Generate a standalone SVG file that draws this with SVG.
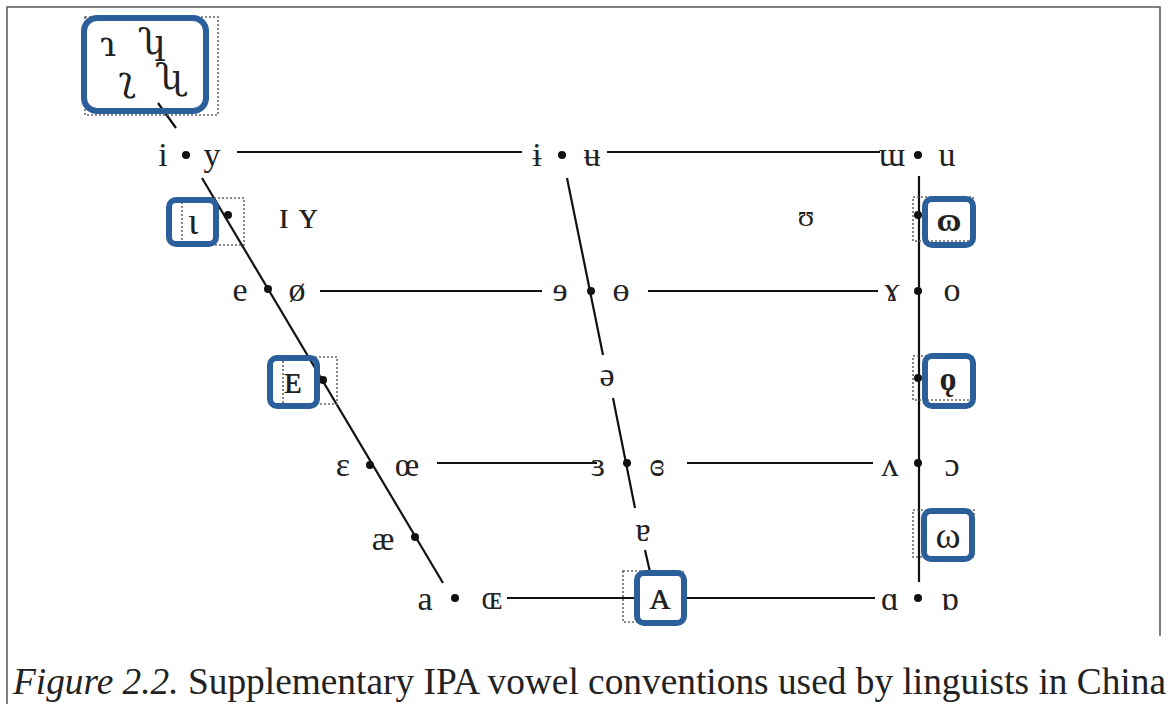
<svg xmlns="http://www.w3.org/2000/svg" width="1168" height="704" viewBox="0 0 1168 704">
<defs>
<style>
.t{font-family:"Liberation Serif","DejaVu Serif",serif;font-size:34px;fill:#222;text-anchor:middle}
.big{font-family:"DejaVu Serif",serif;font-size:36px}
.b{font-weight:bold}
.ln{stroke:#111;stroke-width:2.2;fill:none}
.dot{fill:#111}
.dt{fill:none;stroke:#666;stroke-width:1.6;stroke-dasharray:2 2}
.bx{fill:none;stroke:#2b5f9b;stroke-width:6}
.frame{stroke:#555;stroke-width:1.5;fill:none}
</style>
</defs>
<rect width="1168" height="704" fill="#fff"/>
<g id="frame">
<path class="frame" d="M7,704 V7 H1160 V636"/>
</g>
<g id="connectors">
<line class="ln" x1="158" y1="103" x2="176" y2="128"/>
<line class="ln" x1="202" y1="178" x2="443" y2="583"/>
<line class="ln" x1="567" y1="178" x2="603" y2="355"/>
<line class="ln" x1="613" y1="398" x2="635" y2="508"/>
<line class="ln" x1="645" y1="550" x2="650" y2="572"/>
<line class="ln" x1="919" y1="176" x2="919" y2="582"/>
<line class="ln" x1="237" y1="152" x2="522" y2="152"/>
<line class="ln" x1="607" y1="152" x2="880" y2="152"/>
<line class="ln" x1="320" y1="291" x2="542" y2="291"/>
<line class="ln" x1="648" y1="291" x2="878" y2="291"/>
<line class="ln" x1="437" y1="463" x2="597" y2="463"/>
<line class="ln" x1="687" y1="463" x2="873" y2="463"/>
<line class="ln" x1="507" y1="598" x2="636" y2="598"/>
<line class="ln" x1="685" y1="598" x2="875" y2="598"/>
</g>
<g id="dots">
<circle class="dot" cx="186" cy="155" r="4"/>
<circle class="dot" cx="562" cy="155" r="4"/>
<circle class="dot" cx="918" cy="155" r="4"/>
<circle class="dot" cx="228" cy="215" r="4"/>
<circle class="dot" cx="918" cy="215" r="4"/>
<circle class="dot" cx="268" cy="289" r="4"/>
<circle class="dot" cx="591" cy="291" r="4"/>
<circle class="dot" cx="918" cy="291" r="4"/>
<circle class="dot" cx="323" cy="380" r="4"/>
<circle class="dot" cx="918" cy="378" r="4"/>
<circle class="dot" cx="370" cy="465" r="4"/>
<circle class="dot" cx="627" cy="463" r="4"/>
<circle class="dot" cx="918" cy="463" r="4"/>
<circle class="dot" cx="415" cy="537" r="4"/>
<circle class="dot" cx="455" cy="598" r="4"/>
<circle class="dot" cx="918" cy="598" r="4"/>
</g>
<g id="apical">
<rect class="dt" x="85" y="17" width="133" height="98"/>
<rect class="bx" x="84" y="18" width="122" height="93" rx="13"/>
<text class="t big" x="108" y="56">ɿ</text>
<text class="t big" x="152" y="54">ʮ</text>
<text class="t big" x="127" y="91">ʅ</text>
<text class="t big" x="169" y="89">ʯ</text>
</g>
<g id="row-close">
<text class="t" x="163" y="166">i</text>
<text class="t" x="212" y="166">y</text>
<text class="t" x="537" y="166">ɨ</text>
<text class="t" x="592" y="166">ʉ</text>
<text class="t" x="892" y="166">ɯ</text>
<text class="t" x="947" y="166">u</text>
</g>
<g id="node-iota">
<rect class="dt" x="182" y="198" width="62" height="47"/>
<rect class="bx" x="169" y="200" width="47" height="44" rx="7"/>
<text class="t" x="193" y="234" style="font-size:38px">ɩ</text>
</g>
<g id="near-close">
<text class="t" x="298" y="228" style="font-size:38px">ɪ ʏ</text>
<text class="t" x="806" y="226" style="font-size:30px">ʊ</text>
</g>
<g id="node-omega1">
<rect class="dt" x="913" y="197" width="60" height="44"/>
<rect class="bx" x="925" y="199" width="48" height="46" rx="7"/>
<text class="t b" x="949" y="231">ɷ</text>
</g>
<g id="row-closemid">
<text class="t" x="240" y="301">e</text>
<text class="t" x="297" y="301">ø</text>
<text class="t" x="560" y="301">ɘ</text>
<text class="t" x="621" y="301">ɵ</text>
<text class="t" x="892" y="301">ɤ</text>
<text class="t" x="952" y="301">o</text>
</g>
<g id="node-E">
<rect class="dt" x="283" y="357" width="54" height="47"/>
<rect class="bx" x="270" y="358" width="47" height="48" rx="7"/>
<text class="t" x="293" y="393" style="font-size:42px">ᴇ</text>
</g>
<g id="node-schwa">
<text class="t" x="607" y="386">ə</text>
</g>
<g id="node-o-mid">
<rect class="dt" x="913" y="356" width="60" height="44"/>
<rect class="bx" x="925" y="356" width="48" height="50" rx="7"/>
<text class="t b" x="948" y="390">ǫ</text>
</g>
<g id="row-openmid">
<text class="t" x="343" y="476">ɛ</text>
<text class="t" x="407" y="476">œ</text>
<text class="t" x="598" y="476">ɜ</text>
<text class="t" x="657" y="476">ɞ</text>
<text class="t" x="890" y="476">ʌ</text>
<text class="t" x="952" y="476">ɔ</text>
</g>
<g id="row-nearopen">
<text class="t" x="383" y="550">æ</text>
<text class="t" x="643" y="541">ɐ</text>
</g>
<g id="node-omega2">
<rect class="dt" x="913" y="510" width="61" height="47"/>
<rect class="bx" x="924" y="511" width="48" height="48" rx="7"/>
<text class="t" x="948" y="548" style="font-size:38px">ω</text>
</g>
<g id="row-open">
<text class="t" x="425" y="610">a</text>
<text class="t" x="492" y="609" style="font-size:33px">ɶ</text>
<text class="t" x="890" y="610">ɑ</text>
<text class="t" x="950" y="610">ɒ</text>
</g>
<g id="node-A">
<rect class="dt" x="623" y="571" width="60" height="51"/>
<rect class="bx" x="637" y="573" width="47" height="50" rx="7"/>
<text class="t" x="660" y="609" style="font-size:42px">ᴀ</text>
</g>
<g id="caption">
<text x="13" y="694" style="font-family:'Liberation Serif',serif;font-size:37px;fill:#222" textLength="1153" lengthAdjust="spacingAndGlyphs"><tspan font-style="italic">Figure 2.2.</tspan> Supplementary IPA vowel conventions used by linguists in China</text>
</g>
</svg>
